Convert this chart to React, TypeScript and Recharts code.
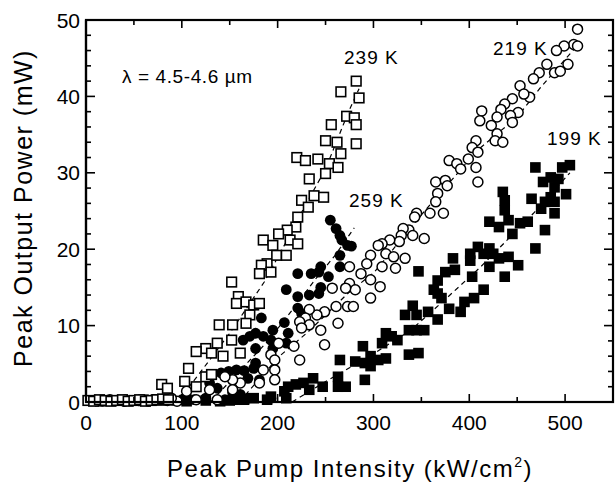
import { ScatterChart, Scatter, XAxis, YAxis } from "recharts";

// 239 K, open squares
const k239 = [
  [2, 0.2], [8, 0.1], [14, 0.3], [20, 0.2], [26, 0.1], [32, 0.2], [38, 0.3], [44, 0.1],
  [50, 0.2], [56, 0.3], [62, 0.1], [68, 0.2], [74, 0.3], [80, 0.4], [86, 0.3],
  [282, 42.0], [285, 39.8], [266, 40.6], [272, 37.4], [280, 37.2], [282, 36.3], [256, 36.3],
  [262, 34.0], [250, 34.2], [282, 33.8], [266, 32.5], [220, 32.0], [229, 31.6], [242, 31.8],
  [254, 31.2], [263, 30.7], [250, 29.9], [233, 29.2], [225, 26.4], [238, 27.0], [248, 26.8],
  [232, 25.5], [221, 24.2], [219, 22.9], [210, 22.5], [201, 22.0], [213, 21.2], [221, 20.7],
  [185, 21.2], [195, 20.5], [189, 18.1], [183, 17.9], [199, 19.2], [209, 19.2], [181, 16.8],
  [193, 17.0], [152, 15.7], [159, 13.8], [157, 12.9], [167, 13.1], [175, 12.7], [181, 12.9],
  [171, 11.4], [167, 10.3], [139, 10.1], [153, 10.1], [152, 8.1], [137, 7.7], [125, 7.0],
  [115, 6.6], [131, 6.4], [143, 6.0], [161, 6.4], [107, 4.4], [125, 3.3], [131, 3.6],
  [103, 2.7], [79, 2.3], [85, 1.8], [115, 2.0],
];

// 259 K, filled circles
const k259 = [
  [5, 0.2], [17, 0.1], [29, 0.2], [41, 0.3], [53, 0.2], [65, 0.1], [90, 0.2], [100, 0.3],
  [255, 23.8], [261, 22.7], [265, 21.8], [267, 21.2], [273, 20.5], [277, 20.4], [265, 19.2],
  [265, 17.7], [245, 17.7], [235, 16.8], [243, 17.0], [253, 16.4], [221, 16.8], [209, 14.7],
  [221, 13.8], [233, 14.0], [243, 14.2], [245, 15.0], [221, 12.3], [225, 11.6], [183, 11.0],
  [207, 10.4], [195, 9.4], [211, 9.0], [164, 8.1], [171, 8.6], [177, 9.0], [185, 8.6],
  [193, 8.1], [177, 7.0], [195, 7.0], [209, 7.7], [141, 3.8], [149, 4.0], [157, 4.2],
  [165, 4.1], [175, 4.4], [177, 5.1], [169, 3.1], [181, 2.9], [129, 2.5], [137, 1.8],
  [153, 1.2], [161, 1.0], [105, 0.7], [113, 0.3], [125, 0.5], [145, 0.3], [169, 0.5], [193, 0.5],
];

// 219 K, open circles
const k219 = [
  [10, 0.2], [25, 0.3], [40, 0.1], [55, 0.2], [70, 0.3], [85, 0.2], [95, 0.1], [115, 0.3],
  [513, 48.8], [509, 46.8], [513, 46.6], [499, 46.6], [491, 46.0], [503, 44.2], [489, 43.1],
  [481, 44.2], [473, 43.1], [495, 43.3], [467, 42.3], [453, 41.4], [463, 39.9], [457, 40.3],
  [445, 39.7], [437, 39.0], [433, 38.3], [451, 37.9], [443, 37.5], [429, 37.3], [445, 36.6],
  [413, 38.1], [411, 36.8], [423, 36.2], [429, 35.1], [427, 34.2], [435, 34.0], [407, 34.2],
  [403, 33.3], [409, 32.7], [399, 31.8], [407, 30.7], [379, 31.6], [387, 31.2], [391, 30.5],
  [409, 28.8], [365, 28.8], [375, 29.0], [377, 28.3], [367, 27.3], [365, 26.2], [373, 24.7],
  [359, 24.7], [345, 24.7], [343, 24.2], [353, 21.4], [337, 22.5], [331, 22.7], [329, 21.8],
  [341, 21.8], [327, 21.0], [317, 21.2], [309, 20.7], [305, 20.5], [297, 19.2], [313, 19.4],
  [321, 19.0], [333, 18.8], [323, 17.5], [309, 17.7], [293, 18.1], [287, 16.8], [297, 16.0],
  [307, 15.1], [275, 17.7], [275, 15.5], [281, 14.7], [271, 14.9], [257, 14.9], [273, 12.5],
  [279, 12.5], [297, 13.6], [261, 12.5], [249, 11.8], [241, 11.4], [233, 12.1], [229, 11.0],
  [233, 10.1], [223, 10.5], [225, 9.7], [245, 9.4], [263, 10.3], [249, 7.5], [223, 5.5],
  [217, 7.3], [201, 7.7], [193, 6.2], [197, 5.5], [185, 4.2], [197, 4.2], [197, 2.9],
  [181, 2.5], [161, 2.5], [153, 2.9], [145, 3.3], [153, 1.6], [129, 1.6], [105, 1.4],
  [137, 0.3], [89, 0.5], [73, 0.3],
];

// 199 K, filled squares
const k199 = [
  [3, 0.2], [15, 0.1], [35, 0.2], [60, 0.3], [78, 0.2], [105, 0.1], [125, 0.2], [140, 0.1],
  [150, 0.2], [160, 0.3], [505, 31.0], [497, 30.7], [469, 30.7], [485, 29.4], [493, 29.2],
  [477, 28.8], [489, 28.1], [501, 27.2], [485, 26.8], [465, 26.6], [479, 26.2], [489, 26.2],
  [475, 25.3], [489, 24.7], [435, 27.5], [437, 26.4], [437, 25.1], [441, 23.8], [421, 23.6],
  [431, 22.9], [445, 22.0], [453, 23.4], [461, 23.6], [479, 22.5], [469, 20.1], [409, 20.3],
  [421, 20.1], [415, 19.4], [425, 19.4], [431, 18.8], [441, 19.0], [451, 17.9], [421, 17.7],
  [437, 16.4], [415, 14.7], [401, 19.4], [401, 18.5], [383, 18.8], [385, 17.3], [375, 17.0],
  [347, 17.1], [367, 15.9], [363, 14.7], [367, 14.2], [371, 13.6], [403, 16.4], [405, 13.6],
  [395, 13.1], [391, 11.8], [379, 12.2], [341, 12.6], [333, 11.4], [345, 11.4], [357, 11.8],
  [367, 10.8], [337, 9.4], [345, 9.4], [353, 9.4], [313, 9.0], [319, 8.6], [325, 8.1],
  [309, 7.7], [289, 7.3], [297, 6.0], [281, 5.3], [291, 5.1], [297, 4.7], [305, 5.5],
  [313, 5.7], [337, 6.2], [347, 6.4], [291, 2.9], [265, 5.5], [263, 3.3], [271, 2.0],
  [263, 2.0], [247, 2.0], [237, 3.1], [227, 2.5], [219, 2.3], [233, 1.6], [211, 2.0],
  [207, 1.4], [209, 0.5], [193, 0.7], [189, 0.3], [175, 0.5], [165, 0.3],
];

// dashed fit curves
const fit239 = [[95, 0], [117, 3.5], [150, 9], [186, 15.7], [210, 21.2], [230, 26], [250, 30.5], [274, 38], [285, 41]];
const fit259 = [[130, 0], [160, 4], [190, 8], [215, 12], [239, 16], [260, 19.2], [280, 22.8]];
const fit219 = [[160, 0], [201, 5.9], [232, 9.2], [274, 14.3], [301, 17], [350, 24.5], [409, 33], [450, 37.3], [474, 41.1], [515, 47]];
const fit199 = [[215, 0], [253, 2.9], [300, 6.3], [339, 9.4], [372, 13.1], [412, 17.7], [467, 24.7], [505, 30]];

const xTicks = [0, 50, 100, 150, 200, 250, 300, 350, 400, 450, 500];
const yTicks = [0, 2, 4, 6, 8, 10, 12, 14, 16, 18, 20, 22, 24, 26, 28, 30, 32, 34, 36, 38, 40, 42, 44, 46, 48, 50];
const X_MAX = 550;
const Y_MAX = 50;

const toPts = (a: number[][]) => a.map(([x, y]) => ({ x, y }));
const FONT = "'Liberation Sans', Arial, sans-serif";

// plot box (page pixels), set through the chart margins and axis sizes
const LEFT = 86;
const TOP = 20;
const RIGHT = 613;
const BOTTOM = 402;
const sx = (v: number) => LEFT + (v / X_MAX) * (RIGHT - LEFT);
const sy = (v: number) => BOTTOM - (v / Y_MAX) * (BOTTOM - TOP);

const OpenSquare = (p: any) => (
  <rect x={p.cx - 4.8} y={p.cy - 4.8} width={9.6} height={9.6} fill="#fff" stroke="#000" strokeWidth={1.6} />
);
const FilledSquare = (p: any) => (
  <rect x={p.cx - 5.3} y={p.cy - 5.3} width={10.6} height={10.6} fill="#000" />
);
const OpenCircle = (p: any) => (
  <circle cx={p.cx} cy={p.cy} r={5} fill="#fff" stroke="#000" strokeWidth={1.5} />
);
const FilledCircle = (p: any) => <circle cx={p.cx} cy={p.cy} r={5.4} fill="#000" />;
const NoDot = () => <g />;

const BottomTick = (p: any) => {
  const v = p.payload.value;
  const major = v % 100 === 0;
  return (
    <g>
      <line x1={p.x} x2={p.x} y1={p.y} y2={p.y - (major ? 8 : 5)} stroke="#000" strokeWidth={1.6} />
      {major && (
        <text x={p.x} y={p.y + 28} textAnchor="middle" fontSize={21} fontFamily={FONT} fill="#000">
          {v}
        </text>
      )}
    </g>
  );
};
const LeftTick = (p: any) => {
  const v = p.payload.value;
  const major = v % 10 === 0;
  return (
    <g>
      <line x1={p.x} x2={p.x + (major ? 9 : 5)} y1={p.y} y2={p.y} stroke="#000" strokeWidth={1.6} />
      {major && (
        <text x={p.x - 6} y={p.y + 7.5} textAnchor="end" fontSize={21} fontFamily={FONT} fill="#000">
          {v}
        </text>
      )}
    </g>
  );
};

const axisLine = { stroke: "#000", strokeWidth: 2.2 };
const fitLine = { stroke: "#000", strokeWidth: 1.2, strokeDasharray: "5 4" };

export default function App() {
  const common = { xAxisId: "b", yAxisId: "l", isAnimationActive: false };
  return (
    <div style={{ position: "absolute", left: 0, top: 0, width: 616, height: 489, background: "#fff" }}>
      <ScatterChart width={616} height={489} margin={{ top: TOP, right: 616 - RIGHT, bottom: 0, left: 0 }}>
        <XAxis xAxisId="b" type="number" dataKey="x" domain={[0, X_MAX]} ticks={xTicks} height={489 - BOTTOM}
          axisLine={axisLine} tickLine={false} tickSize={0} tickMargin={0} tick={BottomTick} interval={0} />
        <YAxis yAxisId="l" type="number" dataKey="y" domain={[0, Y_MAX]} ticks={yTicks} width={LEFT}
          axisLine={axisLine} tickLine={false} tickSize={0} tickMargin={0} tick={LeftTick} interval={0} />
        <Scatter {...common} data={toPts(fit239)} line={fitLine} lineType="joint" shape={NoDot} />
        <Scatter {...common} data={toPts(fit259)} line={fitLine} lineType="joint" shape={NoDot} />
        <Scatter {...common} data={toPts(fit219)} line={fitLine} lineType="joint" shape={NoDot} />
        <Scatter {...common} data={toPts(fit199)} line={fitLine} lineType="joint" shape={NoDot} />
        <Scatter {...common} name="259 K" data={toPts(k259)} shape={FilledCircle} />
        <Scatter {...common} name="199 K" data={toPts(k199)} shape={FilledSquare} />
        <Scatter {...common} name="219 K" data={toPts(k219)} shape={OpenCircle} />
        <Scatter {...common} name="239 K" data={toPts(k239)} shape={OpenSquare} />
      </ScatterChart>
      <svg width={616} height={489} style={{ position: "absolute", left: 0, top: 0, pointerEvents: "none" }}
        fontFamily={FONT} fill="#000">
        {/* full frame with mirrored inward ticks on top and right */}
        <rect x={LEFT} y={TOP} width={RIGHT - LEFT} height={BOTTOM - TOP} fill="none" stroke="#000" strokeWidth={2.2} />
        {xTicks.map((v) => (
          <line key={"tx" + v} x1={sx(v)} x2={sx(v)} y1={TOP} y2={TOP + (v % 100 === 0 ? 8 : 5)} stroke="#000" strokeWidth={1.6} />
        ))}
        {yTicks.map((v) => (
          <line key={"ty" + v} x1={RIGHT} x2={RIGHT - (v % 10 === 0 ? 9 : 5)} y1={sy(v)} y2={sy(v)} stroke="#000" strokeWidth={1.6} />
        ))}
        <text x={122} y={83} fontSize={19} letterSpacing={0.6}>λ = 4.5-4.6 µm</text>
        <text x={344} y={64} fontSize={19} letterSpacing={1}>239 K</text>
        <text x={349} y={207} fontSize={19} letterSpacing={1}>259 K</text>
        <text x={493} y={55} fontSize={19} letterSpacing={1}>219 K</text>
        <text x={547} y={145} fontSize={19} letterSpacing={1}>199 K</text>
        <text x={350} y={477} fontSize={24} letterSpacing={1.5} textAnchor="middle">
          Peak Pump Intensity (kW/cm<tspan dy={-10} fontSize={14}>2</tspan><tspan dy={10}>)</tspan>
        </text>
        <text transform="translate(32,208) rotate(-90)" fontSize={25} letterSpacing={1.5} textAnchor="middle">
          Peak Output Power (mW)
        </text>
      </svg>
    </div>
  );
}
